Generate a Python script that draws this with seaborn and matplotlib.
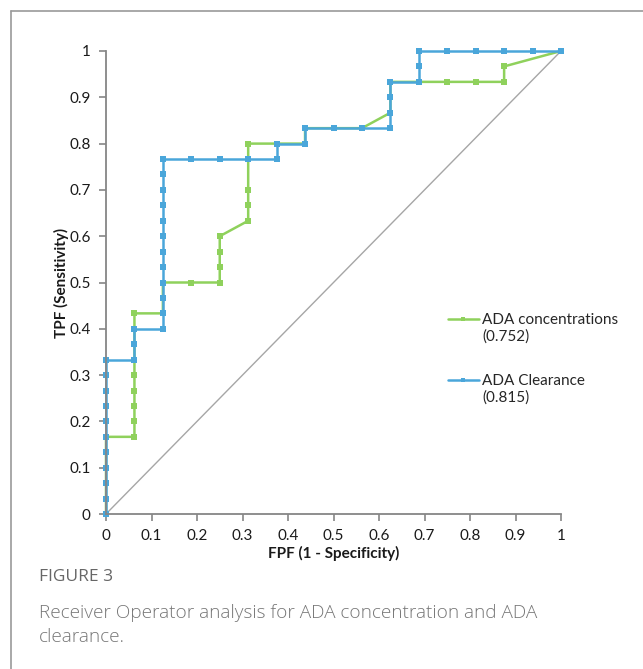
import numpy as np
import pandas as pd
import matplotlib
matplotlib.use("Agg")
import matplotlib.pyplot as plt
import seaborn as sns

# ROC points, as (false positives / 16, true positives / 30)
n_neg = 16
n_pos = 30

conc_fp = [0, 0, 0, 0, 0, 0, 1, 1, 1, 1, 1, 1, 1, 1, 1, 2, 2, 2, 3, 4, 4, 4, 4,
           5, 5, 5, 5, 5, 6, 7, 7, 8, 9, 10, 10, 10, 11, 12, 13, 14, 14, 16]
conc_tp = [0, 1, 2, 3, 4, 5, 5, 6, 7, 8, 9, 10, 11, 12, 13, 13, 14, 15, 15, 15, 16, 17, 18,
           19, 20, 21, 23, 24, 24, 24, 25, 25, 25, 26, 27, 28, 28, 28, 28, 28, 29, 30]

clear_fp = [0, 0, 0, 0, 0, 0, 0, 0, 0, 0, 0, 1, 1, 1,
            2, 2, 2, 2, 2, 2, 2, 2, 2, 2, 2, 2,
            3, 4, 5, 6, 6, 7, 7, 8, 9, 10, 10, 10, 10,
            11, 11, 11, 12, 13, 14, 15, 16]
clear_tp = [0, 1, 2, 3, 4, 5, 6, 7, 8, 9, 10, 10, 11, 12,
            12, 13, 14, 15, 16, 17, 18, 19, 20, 21, 22, 23,
            23, 23, 23, 23, 24, 24, 25, 25, 25, 25, 26, 27, 28,
            28, 29, 30, 30, 30, 30, 30, 30]

series_names = ["ADA concentrations\n(0.752)", "ADA Clearance\n(0.815)"]
series_colors = ["#8fd15c", "#4aa6da"]

ref_x = [0, 1]
ref_y = [0, 1]

tick_vals = [0, 0.1, 0.2, 0.3, 0.4, 0.5, 0.6, 0.7, 0.8, 0.9, 1]
tick_labels = ["0", "0.1", "0.2", "0.3", "0.4", "0.5", "0.6", "0.7", "0.8", "0.9", "1"]

df = pd.concat([
    pd.DataFrame({"fpf": np.array(conc_fp) / n_neg, "tpf": np.array(conc_tp) / n_pos,
                  "series": series_names[0]}),
    pd.DataFrame({"fpf": np.array(clear_fp) / n_neg, "tpf": np.array(clear_tp) / n_pos,
                  "series": series_names[1]}),
])

sns.set_style("white")
plt.rcParams["font.family"] = ["Lato", "DejaVu Sans"]

fig = plt.figure(figsize=(6.43, 6.69), dpi=100)
ax = fig.add_axes([106 / 643, 1 - 514 / 669, 455 / 643, 463 / 669])

# chance line
ax.plot(ref_x, ref_y, color="#a6a6a6", lw=1.0, zorder=1)

sns.lineplot(data=df, x="fpf", y="tpf", hue="series", palette=series_colors,
             sort=False, estimator=None, units="series", marker="s", markersize=4.5,
             markeredgewidth=0, linewidth=1.8, ax=ax, zorder=2)

ax.set_xlim(0, 1)
ax.set_ylim(0, 1)
ax.set_xticks(tick_vals)
ax.set_xticklabels(tick_labels)
ax.set_yticks(tick_vals)
ax.set_yticklabels(tick_labels)
ax.tick_params(axis="both", direction="out", length=5, width=1.2, color="#868686",
               labelsize=11, labelcolor="#1a1a1a", pad=6)
ax.tick_params(axis="x", bottom=True)
ax.tick_params(axis="y", left=True)
for side in ["top", "right"]:
    ax.spines[side].set_visible(False)
for side in ["left", "bottom"]:
    ax.spines[side].set_color("#868686")
    ax.spines[side].set_linewidth(1.3)
for line in ax.lines:
    line.set_clip_on(False)

ax.set_xlabel("FPF (1 - Specificity)", fontsize=11, fontweight="bold", color="#1a1a1a", labelpad=2)
ax.set_ylabel("TPF (Sensitivity)", fontsize=11, fontweight="bold", color="#1a1a1a", labelpad=0)

leg = ax.legend(loc="upper left", bbox_to_anchor=(442 / 643, 1 - 307 / 669),
                bbox_transform=fig.transFigure, frameon=False, fontsize=11,
                handlelength=2.0, handletextpad=0.25, labelspacing=2.0, borderaxespad=0)
# handle sits level with the first line of each two-line label
for h in leg.get_lines():
    h.set_markersize(3)
    h.set_ydata(np.asarray(h.get_ydata()) + 6.8)

# figure panel border (top and left)
fig.add_artist(plt.Line2D([11 / 643, 1], [1 - 11 / 669, 1 - 11 / 669],
                          transform=fig.transFigure, color="#9a9a9a", lw=1.2))
fig.add_artist(plt.Line2D([11 / 643, 11 / 643], [0, 1 - 11 / 669],
                          transform=fig.transFigure, color="#9a9a9a", lw=1.2))

fig.text(39 / 643, 1 - 577 / 669, "FIGURE 3", fontsize=12.5, color="#666666",
         family=["Open Sans", "DejaVu Sans"], va="center")
fig.text(39 / 643, 1 - 625 / 669,
         "Receiver Operator analysis for ADA concentration and ADA\nclearance.",
         fontsize=13.7, color="#777777", family=["Open Sans", "DejaVu Sans"],
         fontweight="light", va="center", linespacing=1.37)

fig.savefig("out.png", dpi=100)
